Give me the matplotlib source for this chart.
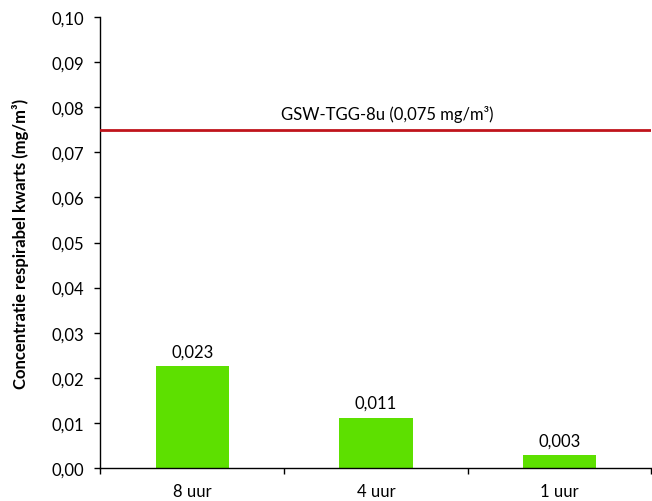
import matplotlib.pyplot as plt
import numpy as np

plt.rcParams['font.family'] = ['Lato', 'DejaVu Sans']

# data
categories = ["8 uur", "4 uur", "1 uur"]
values = [0.0226, 0.0112, 0.0029]
value_labels = ["0,023", "0,011", "0,003"]
limit_value = 0.075
limit_label = "GSW-TGG-8u (0,075 mg/m³)"
yticks = np.arange(0, 0.1001, 0.01)

fs = 12

fig = plt.figure(figsize=(6.52, 5.02), dpi=100)
ax = fig.add_axes([0.1541, 0.0657, 0.845, 0.8984])

x = np.arange(len(categories))
bars = ax.bar(x, values, width=0.4, color="#5DE000", zorder=2)

for b, lab in zip(bars, value_labels):
    ax.annotate(lab, (b.get_x() + b.get_width() / 2, b.get_height()),
                xytext=(0, 10.5), textcoords="offset points",
                ha="center", va="center", fontsize=fs, color="black")

# limit line
ax.axhline(limit_value, color="#C0141C", lw=2, zorder=3)
ax.text(1.063, 0.0787, limit_label, ha="center", va="center", fontsize=fs)

ax.set_xlim(-0.5, len(categories) - 0.5)
ax.set_ylim(0, 0.10)
ax.set_yticks(yticks)
ax.set_yticklabels([f"{v:.2f}".replace(".", ",") for v in yticks])

ax.set_xticks(x)
ax.set_xticklabels(categories)
ax.set_xticks(np.arange(-0.5, len(categories)), minor=True)
ax.tick_params(axis="x", which="major", length=0, pad=11, labelsize=fs)
ax.tick_params(axis="x", which="minor", length=4, width=1, direction="out")
ax.tick_params(axis="y", length=4.5, width=1, direction="out", pad=7, labelsize=fs)

for s in ["top", "right"]:
    ax.spines[s].set_visible(False)
for s in ["left", "bottom"]:
    ax.spines[s].set_linewidth(1)
    ax.spines[s].set_color("#000000")

ax.set_ylabel("Concentratie respirabel kwarts (mg/m³)", fontweight="bold",
              fontsize=fs)
ax.yaxis.set_label_coords(-0.13, 0.5)

fig.savefig("out.png", dpi=100)
